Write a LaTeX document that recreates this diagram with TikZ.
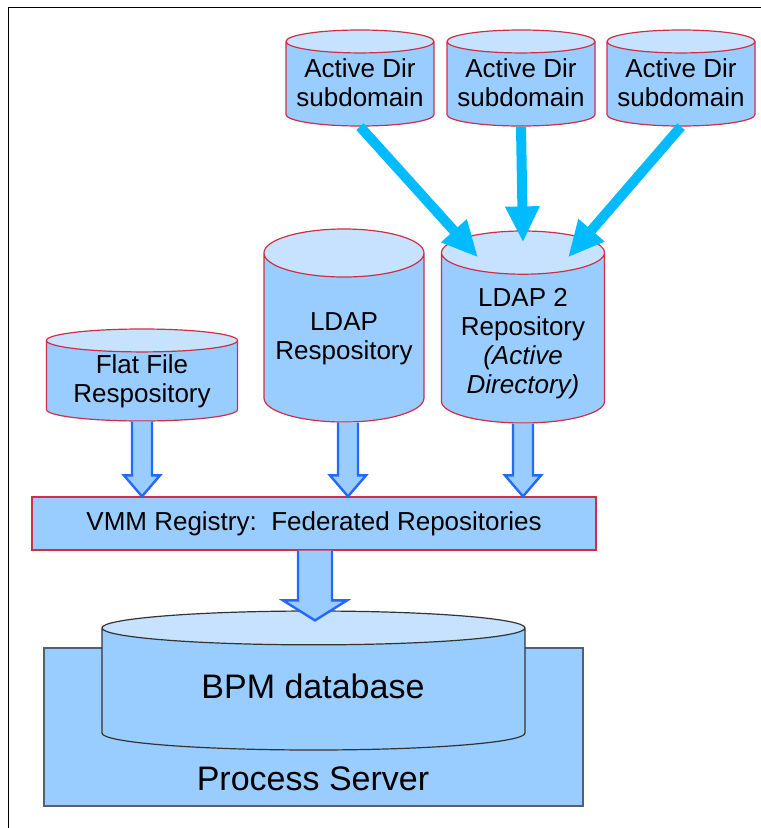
\documentclass[tikz,border=0pt]{standalone}
\usepackage{fontspec}
\setmainfont{Liberation Sans}
\usetikzlibrary{arrows.meta,shapes.geometric,calc}
\definecolor{bodyblue}{RGB}{153,204,255}
\definecolor{capblue}{RGB}{198,226,255}
\definecolor{redline}{RGB}{210,45,70}
\definecolor{outblue}{RGB}{35,105,255}
\definecolor{feedcyan}{RGB}{0,187,255}
\definecolor{greyline}{RGB}{85,95,115}

\begin{document}
\begin{tikzpicture}[
  x=1pt, y=-1pt,
  txt/.style={font=\fontsize{26}{29}\selectfont, align=center, inner sep=0pt},
  bigtxt/.style={font=\fontsize{34}{40}\selectfont, align=center, inner sep=0pt},
  cyl/.style n args={3}{shape=cylinder, shape border rotate=90, draw=redline, line width=1.2pt,
              cylinder uses custom fill, cylinder body fill=bodyblue,
              cylinder end fill=capblue, anchor=shape center,
              inner xsep=#1/2, inner ysep=1pt, minimum width=#1, minimum height=#2, aspect=#3},
  box/.style={draw=redline, line width=1.2pt, fill=bodyblue},
  feed/.style={-{Triangle[length=36pt,width=32pt]}, line width=10pt, draw=feedcyan},
  hollow/.style n args={3}{draw=outblue, line width=2.4pt, fill=bodyblue, line join=miter,
    to path={let \p1=(\tikztostart), \p2=(\tikztotarget) in
      (\x1-#1,\y1) -- (\x1-#1,\y2+#3) -- (\x1-#2,\y2+#3) -- (\x1,\y2)
      -- (\x1+#2,\y2+#3) -- (\x1+#1,\y2+#3) -- (\x1+#1,\y1)}}
]
\useasboundingbox (0,0) rectangle (761,828);
\draw[line width=1pt] (761,7) -- (8,7) -- (8,828);

\node[cyl={148pt}{96pt}{0.155}] (ad1) at (360,78) {};
\node[cyl={148pt}{96pt}{0.155}] (ad2) at (521,78) {};
\node[cyl={148pt}{96pt}{0.155}] (ad3) at (681,78) {};
\node[txt] (ad1txt) at (360,82.5) {Active Dir\\subdomain};
\node[txt] (ad2txt) at (521,82.5) {Active Dir\\subdomain};
\node[txt] (ad3txt) at (681,82.5) {Active Dir\\subdomain};

\node[cyl={191pt}{92pt}{0.12}] (flat) at (142,375) {};
\node[cyl={160pt}{193pt}{0.3}] (ldap) at (344,325.5) {};
\node[cyl={163pt}{192pt}{0.265}] (ldap2) at (523,327) {};
\node[txt] (flattxt) at (142,381.5) {Flat File\\Respository};
\node[txt] (ldaptxt) at (344,339) {LDAP\\Respository};
\node[txt] (ldap2txt) at (523,343.5) {LDAP 2\\Repository\\\textit{(Active}\\\textit{Directory)}};

\node[box, txt, minimum width=564pt, minimum height=53pt] (vmm) at (314,523.5) {VMM Registry:\ \ Federated Repositories};

\node[box, draw=greyline, minimum width=539pt, minimum height=158pt] (server) at (313.5,727) {};
\node[cyl={423pt}{139pt}{0.08}, draw=black!80] (bpm) at (313.5,680.5) {};
\node[bigtxt] (bpmtxt) at (313,686.5) {BPM database};
\node[bigtxt] (srvtxt) at (313,779) {Process Server};

\draw[hollow={10pt}{18pt}{21pt}] (flat.south) to (vmm.north);
\draw[hollow={10pt}{18pt}{21pt}] ([xshift=4pt]ldap.south) to (vmm.north);
\draw[hollow={10pt}{18pt}{21pt}] (ldap2.south) to (vmm.north);
\draw[hollow={17pt}{32pt}{20pt}] ([xshift=1pt]vmm.south) to ([yshift=-10pt]bpm.north);

\draw[feed] (ad1.south) -- ([xshift=-45pt,yshift=-27pt]ldap2.north);
\draw[feed] (ad2.south) -- ([yshift=-12pt]ldap2.north);
\draw[feed] (ad3.south) -- ([xshift=45pt,yshift=-27pt]ldap2.north);
\end{tikzpicture}
\end{document}
